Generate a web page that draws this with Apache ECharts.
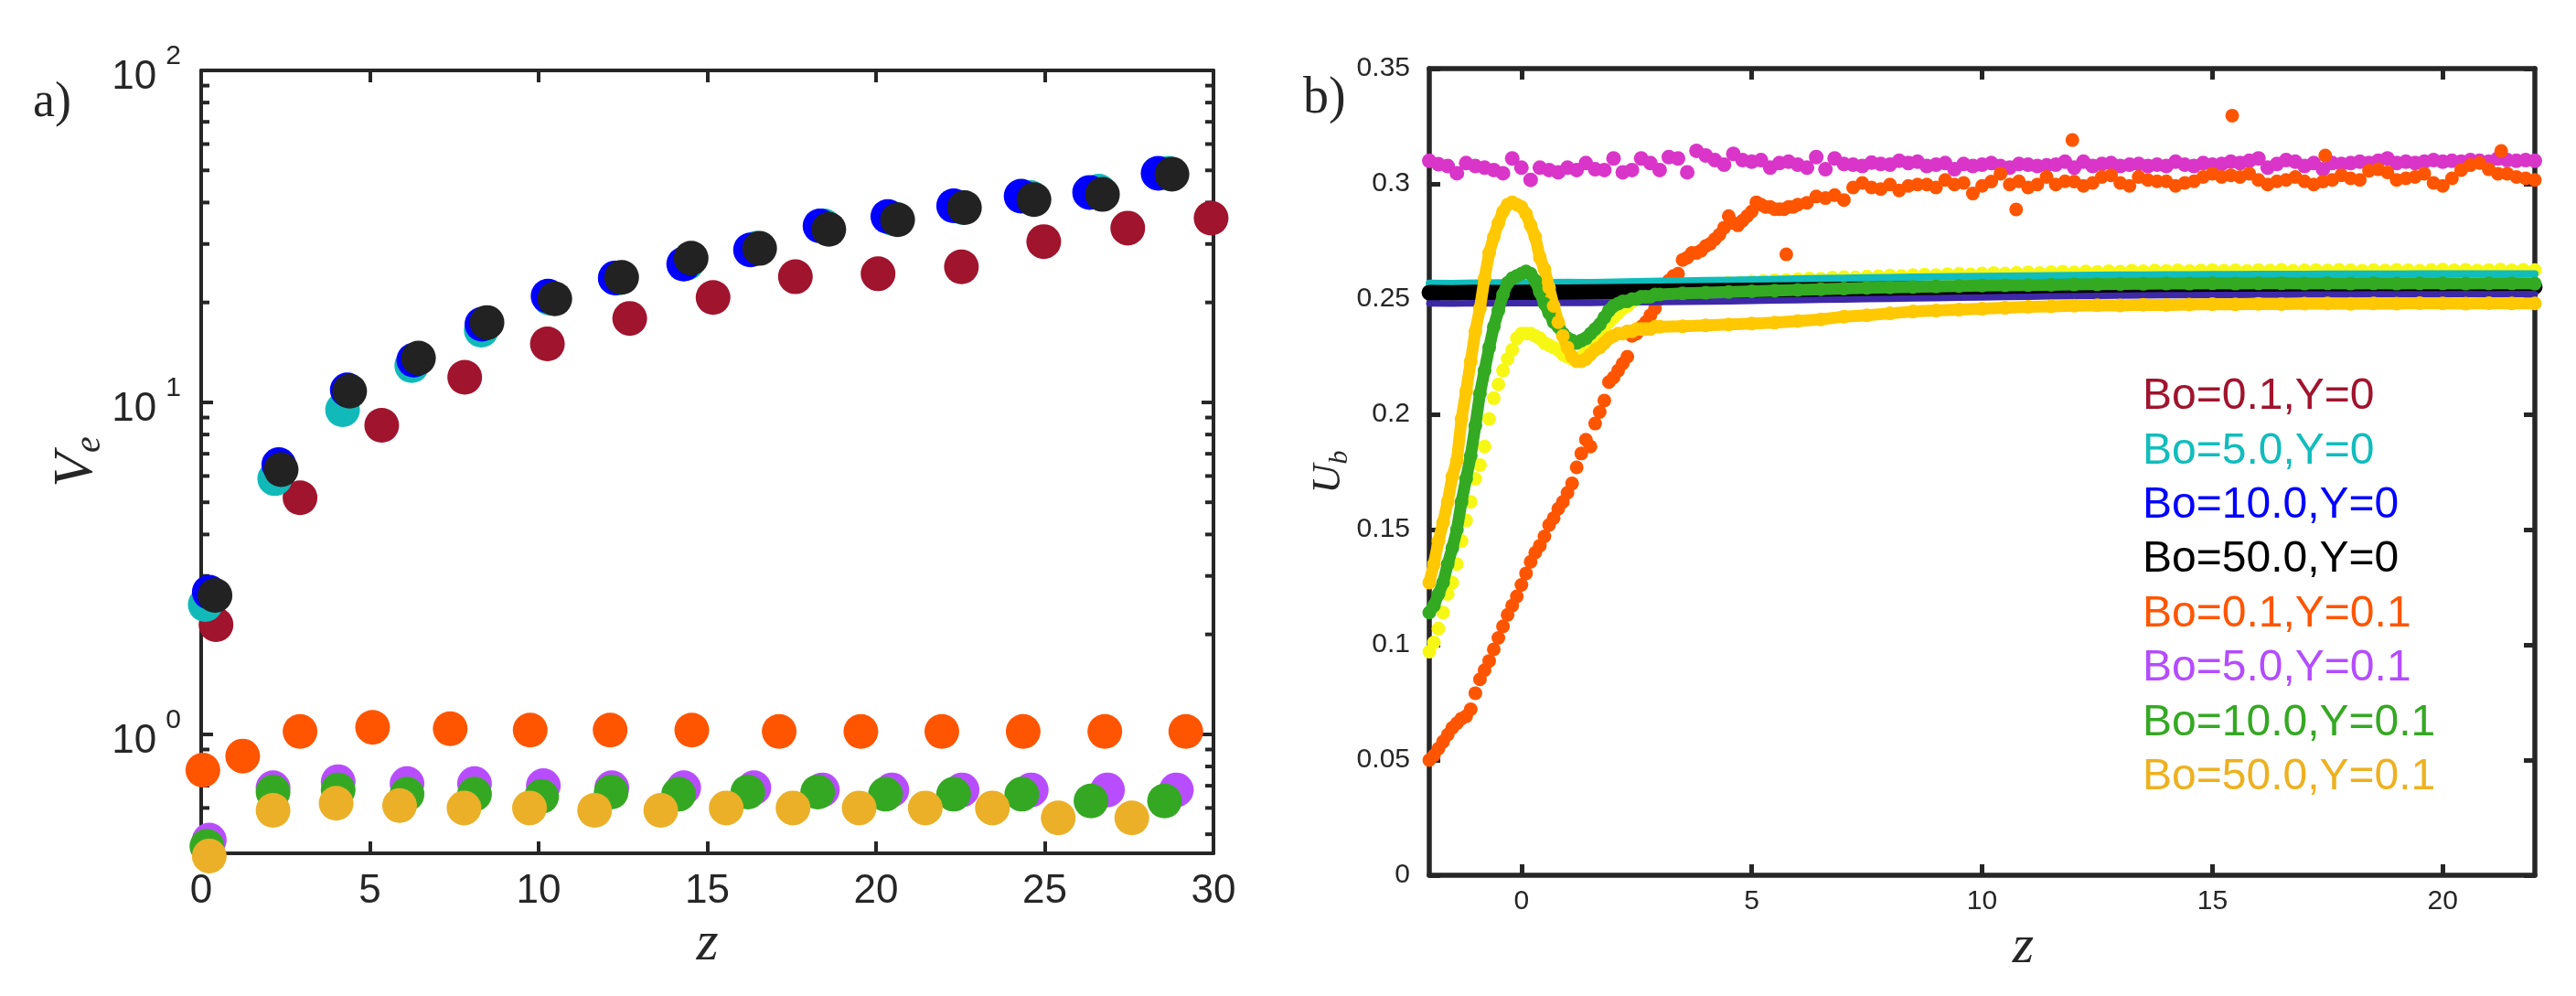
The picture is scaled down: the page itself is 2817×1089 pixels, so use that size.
<!DOCTYPE html>
<html>
<head>
<meta charset="utf-8">
<title>V_e and U_b against z</title>
<script src="https://cdn.jsdelivr.net/npm/echarts@6.0.0/dist/echarts.min.js"></script>
<style>
html, body { margin: 0; padding: 0; background: #ffffff; }
#main { width: 2817px; height: 1089px; }
</style>
</head>
<body>
<div id="main"></div>
<script>
// names of the eight runs (also used for the text legend of panel b)
var runNames = ['Bo=0.1,Y=0', 'Bo=5.0,Y=0', 'Bo=10.0,Y=0', 'Bo=50.0,Y=0',
    'Bo=0.1,Y=0.1', 'Bo=5.0,Y=0.1', 'Bo=10.0,Y=0.1', 'Bo=50.0,Y=0.1'];

// ---------- panel a) : V_e against z ----------
var zA1 = [0.44, 2.93, 5.35, 7.81, 10.26, 12.70, 15.17, 17.61, 20.06, 22.53, 24.97, 27.46, 29.93];
var veA1 = [2.14, 5.16, 8.53, 11.9, 15.0, 17.9, 20.7, 23.9, 24.4, 25.6, 30.5, 33.5, 35.9];
var zA2 = [0.12, 2.18, 4.19, 6.24, 8.3, 10.33, 12.36, 14.4, 16.45, 18.46, 20.5, 22.55, 24.58, 26.6, 28.67];
var veA2 = [2.46, 5.89, 9.5, 12.9, 16.5, 20.6, 23.7, 26.3, 29.1, 34.0, 35.8, 38.7, 41.4, 43.3, 49.0];
var zA3 = [0.24, 2.30, 4.33, 6.3, 8.32, 10.28, 12.27, 14.3, 16.28, 18.34, 20.35, 22.3, 24.3, 26.33, 28.36];
var veA3 = [2.68, 6.49, 10.9, 13.4, 17.2, 20.9, 23.7, 26.1, 28.8, 34.0, 36.3, 39.1, 41.8, 42.9, 49.0];
var zA4 = [0.41, 2.37, 4.40, 6.44, 8.47, 10.48, 12.46, 14.52, 16.55, 18.6, 20.64, 22.62, 24.68, 26.71, 28.77];
var veA4 = [2.62, 6.27, 10.8, 13.6, 17.4, 20.5, 23.8, 27.2, 29.1, 33.2, 35.5, 38.6, 40.8, 42.3, 48.7];
var zA5 = [0.05, 1.23, 2.93, 5.08, 7.38, 9.75, 12.12, 14.54, 17.13, 19.55, 21.95, 24.36, 26.78, 29.18];
var veA5 = [0.78, 0.86, 1.02, 1.05, 1.04, 1.03, 1.03, 1.03, 1.02, 1.02, 1.02, 1.02, 1.02, 1.02];
var zA6 = [0.24, 2.13, 4.06, 6.1, 8.1, 10.14, 12.17, 14.3, 16.38, 18.41, 20.47, 22.55, 24.6, 26.86, 28.9];
var veA6 = [0.48, 0.69, 0.72, 0.71, 0.71, 0.70, 0.69, 0.69, 0.69, 0.68, 0.68, 0.68, 0.68, 0.68, 0.68];
var zA7 = [0.17, 2.13, 4.06, 6.1, 8.1, 10.09, 12.15, 14.15, 16.2, 18.27, 20.28, 22.3, 24.32, 26.37, 28.55];
var veA7 = [0.46, 0.67, 0.68, 0.66, 0.66, 0.65, 0.67, 0.66, 0.67, 0.67, 0.66, 0.66, 0.66, 0.63, 0.63];
var zA8 = [0.24, 2.13, 4.0, 5.88, 7.79, 9.73, 11.66, 13.62, 15.56, 17.54, 19.5, 21.46, 23.45, 25.4, 27.58];
var veA8 = [0.43, 0.59, 0.62, 0.61, 0.60, 0.60, 0.59, 0.59, 0.60, 0.60, 0.60, 0.60, 0.60, 0.56, 0.56];

var veTickValues = [1, 10, 100];
var veTickExps = ['0', '1', '2'];
var veMinorTicks = [0.5, 0.6, 0.7, 0.8, 0.9, 2, 3, 4, 5, 6, 7, 8, 9, 20, 30, 40, 50, 60, 70, 80, 90];
var zARange = [0, 30];
var veRange = [0.438, 100];

// ---------- panel b) : U_b against z ----------
// values read on a regular z sampling (start, step)
var ubMagenta = [
    0.3100, 0.3085, 0.3077, 0.3046, 0.3090, 0.3077, 0.3070, 0.3060, 0.3046, 0.3110,
    0.3070, 0.3017, 0.3070, 0.3060, 0.3050, 0.3070, 0.3060, 0.3090, 0.3063, 0.3060,
    0.3110, 0.3050, 0.3060, 0.3110, 0.3090, 0.3060, 0.3116, 0.3110, 0.3050, 0.3143,
    0.3123, 0.3103, 0.3083, 0.3130, 0.3103, 0.3096, 0.3103, 0.3070, 0.3090, 0.3096,
    0.3083, 0.3070, 0.3116, 0.3063, 0.3110, 0.3086, 0.3083, 0.3077, 0.3092, 0.3086,
    0.3083, 0.3100, 0.3090, 0.3096, 0.3077, 0.3083, 0.3090, 0.3063, 0.3086, 0.3077,
    0.3083, 0.3090, 0.3077, 0.3070, 0.3086, 0.3083, 0.3077, 0.3080, 0.3083, 0.3096,
    0.3070, 0.3096, 0.3077, 0.3086, 0.3090, 0.3077, 0.3083, 0.3086, 0.3077, 0.3083,
    0.3077, 0.3096, 0.3083, 0.3077, 0.3090, 0.3083, 0.3086, 0.3096, 0.3090, 0.3100,
    0.3110, 0.3070, 0.3086, 0.3103, 0.3096, 0.3077, 0.3090, 0.3063, 0.3090, 0.3086,
    0.3090, 0.3096, 0.3090, 0.3100, 0.3110, 0.3090, 0.3096, 0.3090, 0.3096, 0.3103,
    0.3096, 0.3100, 0.3096, 0.3103, 0.3100, 0.3096, 0.3110, 0.3103, 0.3100, 0.3103,
    0.3100];                                    // z = -2 : 0.2 : 22
var ubOrangeRise = [
    0.050, 0.052, 0.055, 0.058, 0.061, 0.064, 0.066, 0.068, 0.069, 0.072,
    0.079, 0.085, 0.089, 0.093, 0.098, 0.103, 0.108, 0.113, 0.117, 0.121,
    0.126, 0.131, 0.136, 0.140, 0.143, 0.147, 0.152, 0.155, 0.159, 0.162,
    0.166, 0.170, 0.177, 0.183, 0.189, 0.186, 0.196, 0.201, 0.206, 0.214,
    0.216, 0.219, 0.222, 0.225, 0.234, 0.235, 0.238, 0.240, 0.243, 0.246,
    0.250, 0.254, 0.258, 0.260, 0.261, 0.267, 0.268, 0.270, 0.270, 0.271,
    0.273, 0.274, 0.276, 0.278, 0.281, 0.286, 0.283, 0.282, 0.284, 0.286,
    0.288, 0.292, 0.291, 0.290, 0.290, 0.289, 0.289, 0.289, 0.290, 0.290,
    0.291];                                     // z = -2 : 0.1 : 6
var ubOrangeFlat = [
    0.2918, 0.2945, 0.2938, 0.2951, 0.2930, 0.2984, 0.3004, 0.2984, 0.2977, 0.2997,
    0.2971, 0.2991, 0.2997, 0.2997, 0.2984, 0.3017, 0.2997, 0.3004, 0.2958, 0.2991,
    0.3010, 0.3044, 0.2997, 0.3011, 0.2984, 0.2997, 0.3030, 0.2997, 0.3011, 0.3010,
    0.2991, 0.3004, 0.3030, 0.3037, 0.3004, 0.2991, 0.3030, 0.3017, 0.3011, 0.3011,
    0.2991, 0.3004, 0.3011, 0.3030, 0.3044, 0.3030, 0.3037, 0.3030, 0.3044, 0.3017,
    0.2997, 0.3011, 0.3017, 0.3030, 0.3011, 0.2997, 0.3010, 0.3017, 0.3037, 0.3024,
    0.3017, 0.3057, 0.3063, 0.3050, 0.3017, 0.3024, 0.3030, 0.3044, 0.3004, 0.2991,
    0.3024, 0.3060, 0.3081, 0.3090, 0.3063, 0.3044, 0.3044, 0.3030, 0.3024, 0.3017]; // z = 6.2 : 0.2 : 22
var zOrangeOut = [5.75, 10.74, 11.96, 15.43, 17.45, 21.27];
var ubOrangeOut = [0.2694, 0.2889, 0.3190, 0.3296, 0.3123, 0.3143];

var ubYellowRise = [
    0.097, 0.101, 0.107, 0.114, 0.122, 0.127, 0.135, 0.145, 0.154, 0.162,
    0.172, 0.178, 0.186, 0.198, 0.207, 0.213, 0.219, 0.224, 0.228, 0.233,
    0.235, 0.235, 0.235, 0.234, 0.233, 0.231, 0.230, 0.229, 0.228, 0.226,
    0.225, 0.224, 0.224, 0.225, 0.227, 0.229, 0.233, 0.236, 0.238, 0.240,
    0.242, 0.244, 0.246, 0.247, 0.249, 0.250]; // z = -2 : 0.1 : 2.5
var ubYellowFlat = [
    0.2515, 0.2530, 0.2542, 0.2552, 0.2557, 0.2563, 0.2566, 0.2570, 0.2571, 0.2576,
    0.2578, 0.2581, 0.2582, 0.2586, 0.2589, 0.2588, 0.2593, 0.2595, 0.2594, 0.2598,
    0.2599, 0.2602, 0.2600, 0.2604, 0.2606, 0.2604, 0.2608, 0.2610, 0.2607, 0.2611,
    0.2613, 0.2611, 0.2614, 0.2616, 0.2613, 0.2617, 0.2619, 0.2616, 0.2620, 0.2618,
    0.2621, 0.2619, 0.2623, 0.2621, 0.2624, 0.2622, 0.2625, 0.2622, 0.2624, 0.2626,
    0.2623, 0.2625, 0.2622, 0.2626, 0.2624, 0.2627, 0.2623, 0.2625, 0.2626, 0.2624,
    0.2627, 0.2625, 0.2623, 0.2626, 0.2624, 0.2627, 0.2625, 0.2623, 0.2626, 0.2628,
    0.2625, 0.2627, 0.2624, 0.2626, 0.2628, 0.2625, 0.2627, 0.2626]; // z = 2.75 : 0.25 : 22

var ubGreenRise = [
    0.114, 0.117, 0.122, 0.127, 0.135, 0.142, 0.150, 0.162, 0.172, 0.182,
    0.195, 0.209, 0.219, 0.229, 0.238, 0.245, 0.252, 0.257, 0.259, 0.260,
    0.261, 0.262, 0.261, 0.258, 0.253, 0.248, 0.244, 0.240, 0.238, 0.235,
    0.233, 0.232, 0.231, 0.232, 0.233, 0.235, 0.237, 0.239, 0.242, 0.245,
    0.247, 0.248, 0.249, 0.249, 0.250, 0.250, 0.251, 0.251, 0.251, 0.252,
    0.252];                                     // z = -2 : 0.1 : 3
var ubGreenFlat = [
    0.2525, 0.2528, 0.2531, 0.2534, 0.2537, 0.2540, 0.2543, 0.2546, 0.2549, 0.2551,
    0.2553, 0.2555, 0.2557, 0.2559, 0.2560, 0.2561, 0.2562, 0.2563, 0.2564, 0.2565,
    0.2566, 0.2567, 0.2567, 0.2568, 0.2567, 0.2568, 0.2568, 0.2567, 0.2568, 0.2567,
    0.2568, 0.2567, 0.2568, 0.2568, 0.2567, 0.2568, 0.2568, 0.2567]; // z = 3.5 : 0.5 : 22

var ubGoldRise = [
    0.127, 0.135, 0.145, 0.153, 0.162, 0.173, 0.180, 0.198, 0.210, 0.223,
    0.236, 0.246, 0.259, 0.270, 0.277, 0.283, 0.288, 0.291, 0.292, 0.291,
    0.290, 0.287, 0.282, 0.277, 0.268, 0.263, 0.255, 0.247, 0.240, 0.234,
    0.229, 0.225, 0.223, 0.223, 0.224, 0.226, 0.228, 0.229, 0.231, 0.233,
    0.234, 0.235, 0.235, 0.236, 0.236, 0.237, 0.237, 0.237, 0.237, 0.238,
    0.238];                                     // z = -2 : 0.1 : 3
var ubGoldFlat = [
    0.2382, 0.2386, 0.2390, 0.2394, 0.2398, 0.2405, 0.2412, 0.2424, 0.2430, 0.2438,
    0.2446, 0.2450, 0.2454, 0.2458, 0.2462, 0.2466, 0.2468, 0.2471, 0.2473, 0.2472,
    0.2475, 0.2474, 0.2476, 0.2478, 0.2477, 0.2479, 0.2478, 0.2480, 0.2481, 0.2479,
    0.2481, 0.2480, 0.2482, 0.2481, 0.2480, 0.2482, 0.2481, 0.2481]; // z = 3.5 : 0.5 : 22

var ubCyan = [
    0.2568, 0.2567, 0.2569, 0.2570, 0.2569, 0.2571, 0.2572, 0.2571, 0.2573, 0.2575,
    0.2577, 0.2578, 0.2580, 0.2581, 0.2583, 0.2585, 0.2587, 0.2589, 0.2590, 0.2592,
    0.2593, 0.2595, 0.2596, 0.2597, 0.2598, 0.2599, 0.2600, 0.2601, 0.2602, 0.2603,
    0.2604, 0.2604, 0.2605, 0.2605, 0.2606, 0.2606, 0.2607, 0.2607, 0.2607, 0.2608,
    0.2608, 0.2608, 0.2608, 0.2609, 0.2609, 0.2609, 0.2609, 0.2609, 0.2609]; // z = -2 : 0.5 : 22
var ubBlack = [
    0.2528, 0.2527, 0.2529, 0.2528, 0.2529, 0.2530, 0.2530, 0.2531, 0.2532, 0.2533,
    0.2534, 0.2535, 0.2536, 0.2537, 0.2538, 0.2539, 0.2540, 0.2541, 0.2542, 0.2543,
    0.2544, 0.2545, 0.2546, 0.2546, 0.2547, 0.2547, 0.2548, 0.2548, 0.2549, 0.2549,
    0.2550, 0.2550, 0.2550, 0.2551, 0.2551, 0.2551, 0.2552, 0.2552, 0.2552, 0.2552,
    0.2553, 0.2553, 0.2553, 0.2553, 0.2553, 0.2553, 0.2553, 0.2553, 0.2553]; // z = -2 : 0.5 : 22
var ubBlue = [
    0.2481, 0.2480, 0.2482, 0.2481, 0.2483, 0.2482, 0.2484, 0.2483, 0.2485, 0.2486,
    0.2487, 0.2488, 0.2489, 0.2490, 0.2492, 0.2494, 0.2495, 0.2497, 0.2498, 0.2500,
    0.2501, 0.2503, 0.2504, 0.2506, 0.2507, 0.2509, 0.2510, 0.2512, 0.2513, 0.2514,
    0.2515, 0.2516, 0.2517, 0.2517, 0.2518, 0.2518, 0.2519, 0.2519, 0.2520, 0.2520,
    0.2520, 0.2521, 0.2521, 0.2521, 0.2521, 0.2522, 0.2521, 0.2522, 0.2522]; // z = -2 : 0.5 : 22

var zBRange = [-2, 22];
var zBTicks = [0, 5, 10, 15, 20];
var ubRange = [0, 0.35];

var axisColor = '#262626';
var colorsA = ['#a0142e', '#12b9b9', '#0000ff', '#222222', '#ff5500', '#b84dff', '#35a823', '#ebb028'];
var legendColors = ['#a0142e', '#12bcbc', '#0000ff', '#000000', '#ff5500', '#b44cff', '#35a823', '#edb120'];

function pairs(zs, vs) {
    return zs.map(function (z, i) { return [z, vs[i]]; });
}
// attach the sampling z to values read at a regular step
function sampled(z0, step, vs) {
    return vs.map(function (v, i) { return [Math.round((z0 + i * step) * 100) / 100, v]; });
}

var chart = echarts.init(document.getElementById('main'));

var zA = [zA1, zA2, zA3, zA4, zA5, zA6, zA7, zA8];
var veA = [veA1, veA2, veA3, veA4, veA5, veA6, veA7, veA8];
var series = [];
for (var i = 0; i < 8; i++) {
    series.push({
        name: runNames[i],
        type: 'scatter',
        xAxisIndex: 0,
        yAxisIndex: 0,
        clip: false,
        symbolSize: 38,
        itemStyle: { color: colorsA[i], opacity: 1 },
        data: pairs(zA[i], veA[i])
    });
}
// minor ticks of the log axis, on both sides of the box
series.push({
    type: 'custom',
    xAxisIndex: 0,
    yAxisIndex: 0,
    silent: true,
    clip: false,
    data: veMinorTicks.map(function (v) { return [zARange[0], v]; }),
    renderItem: function (params, api) {
        var p0 = api.coord([zARange[0], api.value(1)]);
        var p1 = api.coord([zARange[1], api.value(1)]);
        return {
            type: 'group',
            children: [
                { type: 'line', shape: { x1: p0[0], y1: p0[1], x2: p0[0] + 9, y2: p0[1] }, style: { stroke: axisColor, lineWidth: 4 } },
                { type: 'line', shape: { x1: p1[0] - 9, y1: p1[1], x2: p1[0], y2: p1[1] }, style: { stroke: axisColor, lineWidth: 4 } }
            ]
        };
    }
});

function bandLine(name, data, color, width) {
    return {
        name: name, type: 'line', xAxisIndex: 2, yAxisIndex: 2, clip: false,
        showSymbol: false, data: data,
        lineStyle: { color: color, width: width, cap: 'round', join: 'round' },
        itemStyle: { color: color }
    };
}
function dotLine(name, data, color) {
    return {
        name: name, type: 'line', xAxisIndex: 2, yAxisIndex: 2, clip: false,
        symbol: 'circle', symbolSize: 15, showSymbol: true, data: data,
        lineStyle: { color: color, width: 13, cap: 'round', join: 'round' },
        itemStyle: { color: color, borderWidth: 0 }
    };
}
function dots(name, data, color, size) {
    return {
        name: name, type: 'scatter', xAxisIndex: 2, yAxisIndex: 2, clip: false,
        symbolSize: size, data: data,
        itemStyle: { color: color, opacity: 1 }
    };
}

series.push(bandLine('b cyan', sampled(-2, 0.5, ubCyan), '#10bcbc', 8));
series.push(bandLine('b black', sampled(-2, 0.5, ubBlack), '#000000', 17));
series.push(bandLine('b blue', sampled(-2, 0.5, ubBlue), '#3d28a8', 7));
series.push(dots('b magenta', sampled(-2, 0.2, ubMagenta), '#d935c8', 16));
series.push(dots('b yellow', sampled(-2, 0.1, ubYellowRise).concat(sampled(2.75, 0.25, ubYellowFlat)), '#f7f716', 15));
series.push(dotLine('b green', sampled(-2, 0.1, ubGreenRise).concat(sampled(3.5, 0.5, ubGreenFlat)), '#33aa22'));
series.push(dotLine('b gold', sampled(-2, 0.1, ubGoldRise).concat(sampled(3.5, 0.5, ubGoldFlat)), '#ffc800'));
series.push(dots('b orange', sampled(-2, 0.1, ubOrangeRise).concat(sampled(6.2, 0.2, ubOrangeFlat)).concat(pairs(zOrangeOut, ubOrangeOut)), '#ff5500', 15));

var tickStyleA = { inside: true, length: 13, lineStyle: { color: axisColor, width: 4 } };
var lineStyleA = { onZero: false, lineStyle: { color: axisColor, width: 4 } };
var tickStyleB = { inside: true, length: 12, lineStyle: { color: axisColor, width: 5 } };
var lineStyleB = { onZero: false, lineStyle: { color: axisColor, width: 5.5 } };

var legendText = runNames.map(function (n, i) {
    return {
        type: 'text', left: 2343, top: 410 + i * 59.4,
        style: { text: n, fill: legendColors[i], fontSize: 48, fontFamily: 'Liberation Sans' }
    };
});

var option = {
    backgroundColor: '#ffffff',
    animation: false,
    grid: [
        { left: 220, top: 77, width: 1107, height: 856 },
        { left: 1563, top: 75, width: 1209, height: 882 }
    ],
    xAxis: [
        {
            gridIndex: 0, type: 'value', position: 'bottom',
            min: zARange[0], max: zARange[1], interval: 5,
            axisLine: lineStyleA, axisTick: tickStyleA, splitLine: { show: false },
            axisLabel: { fontSize: 44, fontFamily: 'Liberation Sans', color: axisColor, margin: 20 },
            name: 'z', nameLocation: 'middle', nameGap: 62,
            nameTextStyle: { fontSize: 62, fontFamily: 'Liberation Serif', fontStyle: 'italic', color: axisColor }
        },
        {
            gridIndex: 0, type: 'value', position: 'top',
            min: zARange[0], max: zARange[1], interval: 5,
            axisLine: lineStyleA, axisTick: tickStyleA, splitLine: { show: false },
            axisLabel: { show: false }
        },
        {
            gridIndex: 1, type: 'value', position: 'bottom',
            min: zBRange[0], max: zBRange[1],
            axisLine: lineStyleB, splitLine: { show: false },
            axisTick: { inside: true, length: 12, lineStyle: { color: axisColor, width: 5 }, customValues: zBTicks },
            axisLabel: { fontSize: 30, fontFamily: 'Liberation Sans', color: axisColor, margin: 14, customValues: zBTicks },
            name: 'z', nameLocation: 'middle', nameGap: 30,
            nameTextStyle: { fontSize: 60, fontFamily: 'Liberation Serif', fontStyle: 'italic', color: axisColor, padding: [0, 0, 0, 90] }
        },
        {
            gridIndex: 1, type: 'value', position: 'top',
            min: zBRange[0], max: zBRange[1],
            axisLine: lineStyleB, splitLine: { show: false },
            axisTick: { inside: true, length: 12, lineStyle: { color: axisColor, width: 5 }, customValues: zBTicks },
            axisLabel: { show: false, customValues: zBTicks }
        }
    ],
    yAxis: [
        {
            gridIndex: 0, type: 'log', logBase: 10, position: 'left',
            min: veRange[0], max: veRange[1],
            axisLine: lineStyleA, axisTick: tickStyleA, splitLine: { show: false },
            axisLabel: {
                showMinLabel: false, margin: 22, color: axisColor,
                formatter: function (value) {
                    for (var k = 0; k < veTickValues.length; k++) {
                        if (Math.abs(value / veTickValues[k] - 1) < 1e-6) {
                            return '{b|10}{e|' + veTickExps[k] + '}';
                        }
                    }
                    return '';
                },
                rich: {
                    b: { fontSize: 44, fontFamily: 'Liberation Sans', color: axisColor, lineHeight: 60, verticalAlign: 'bottom' },
                    e: { fontSize: 30, fontFamily: 'Liberation Sans', color: axisColor, lineHeight: 34, verticalAlign: 'top', padding: [0, 0, 0, 10] }
                }
            },
            name: '{v|V}{s|e}', nameLocation: 'middle', nameGap: 80, nameRotate: 90,
            nameTextStyle: {
                rich: {
                    v: { fontSize: 62, fontFamily: 'Liberation Serif', fontStyle: 'italic', color: axisColor, lineHeight: 66, verticalAlign: 'top' },
                    s: { fontSize: 40, fontFamily: 'Liberation Serif', fontStyle: 'italic', color: axisColor, lineHeight: 40, verticalAlign: 'bottom' }
                }
            }
        },
        {
            gridIndex: 0, type: 'log', logBase: 10, position: 'right',
            min: veRange[0], max: veRange[1],
            axisLine: lineStyleA, axisTick: tickStyleA, splitLine: { show: false },
            axisLabel: { show: false }
        },
        {
            gridIndex: 1, type: 'value', position: 'left',
            min: ubRange[0], max: ubRange[1], interval: 0.05,
            axisLine: lineStyleB, axisTick: tickStyleB, splitLine: { show: false },
            axisLabel: { fontSize: 30, fontFamily: 'Liberation Sans', color: axisColor, margin: 21 },
            name: '{u|U}{s|b}', nameLocation: 'middle', nameGap: 80, nameRotate: 90,
            nameTextStyle: {
                rich: {
                    u: { fontSize: 44, fontFamily: 'Liberation Serif', fontStyle: 'italic', color: axisColor, lineHeight: 48, verticalAlign: 'top' },
                    s: { fontSize: 30, fontFamily: 'Liberation Serif', fontStyle: 'italic', color: axisColor, lineHeight: 30, verticalAlign: 'bottom' }
                }
            }
        },
        {
            gridIndex: 1, type: 'value', position: 'right',
            min: ubRange[0], max: ubRange[1], interval: 0.05,
            axisLine: lineStyleB, axisTick: tickStyleB, splitLine: { show: false },
            axisLabel: { show: false }
        }
    ],
    graphic: [
        { type: 'text', left: 36, top: 86, style: { text: 'a)', fill: axisColor, fontSize: 54, fontFamily: 'Liberation Serif' } },
        { type: 'text', left: 1425, top: 80, style: { text: 'b)', fill: axisColor, fontSize: 56, fontFamily: 'Liberation Serif' } }
    ].concat(legendText),
    series: series
};

chart.setOption(option);
</script>
</body>
</html>
